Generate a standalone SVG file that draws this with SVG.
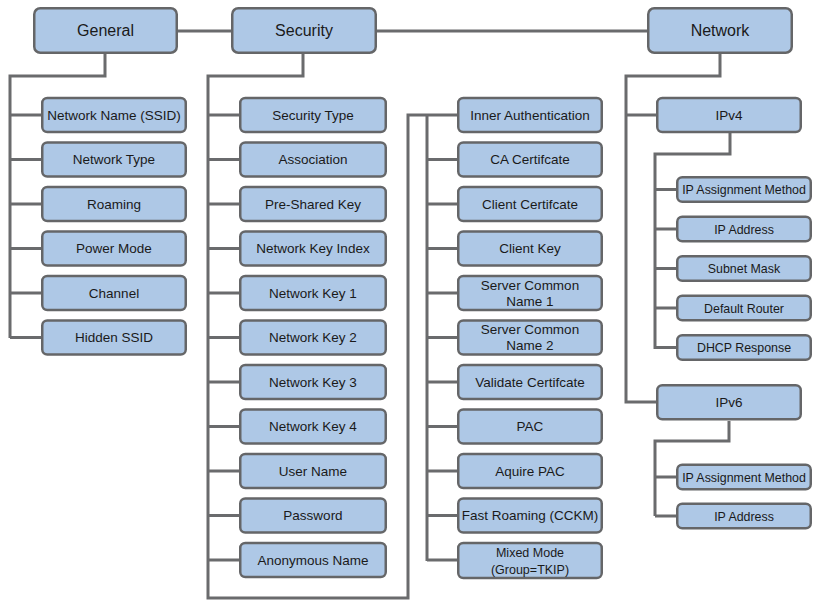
<svg xmlns="http://www.w3.org/2000/svg" width="813" height="600" viewBox="0 0 813 600">
<style>
.bx{fill:#aec8e6;stroke:#656668;stroke-width:2.5}
.ln{fill:none;stroke:#6a6b6d;stroke-width:3}
text{font-family:"Liberation Sans",Arial,sans-serif;fill:#1a1a1a;text-anchor:middle}
.t1{font-size:16px}
.t2{font-size:13.5px}
.t3{font-size:12.4px}
.t4{font-size:12.5px}
</style>
<rect width="813" height="600" fill="#ffffff"/>
<g id="connectors" class="ln">
<path d="M178,31 H231 M377,31 H647"/>
<path d="M105,54 V76 H10 V338"/>
<path d="M10,115 H41 M10,159.5 H41 M10,204 H41 M10,248.5 H41 M10,293 H41 M10,337.5 H41"/>
<path d="M303,54 V76 H208 V598 H408 V115 H457"/>
<path d="M208,115 H239 M208,159.5 H239 M208,204 H239 M208,248.5 H239 M208,293 H239 M208,337.5 H239 M208,382 H239 M208,426.5 H239 M208,471 H239 M208,515.5 H239 M208,560 H239"/>
<path d="M427,115 V561"/>
<path d="M427,159.5 H457 M427,204 H457 M427,248.5 H457 M427,293 H457 M427,337.5 H457 M427,382 H457 M427,426.5 H457 M427,471 H457 M427,515.5 H457 M427,560 H457"/>
<path d="M720,54 V76 H626 V402 H656 M626,115 H656"/>
<path d="M730,133 V154 H655 V349"/>
<path d="M655,189.5 H676 M655,229 H676 M655,268.5 H676 M655,308 H676 M655,347.5 H676"/>
<path d="M729,421 V441 H655 V516"/>
<path d="M655,477 H676 M655,516 H676"/>
</g>
<g id="general"><rect class="bx" x="34.25" y="8.25" width="142.5" height="44.5" rx="6"/><text class="t1" x="105.5" y="36.3">General</text></g>
<g id="security"><rect class="bx" x="232.25" y="8.25" width="143.5" height="44.5" rx="6"/><text class="t1" x="304" y="36.3">Security</text></g>
<g id="network"><rect class="bx" x="648.25" y="8.25" width="143.5" height="44.5" rx="6"/><text class="t1" x="720" y="36.3">Network</text></g>

<g id="g-ssid"><rect class="bx" x="42.25" y="98" width="143.5" height="34" rx="5"/><text class="t2" x="114" y="119.8">Network Name (SSID)</text></g>
<g id="g-type"><rect class="bx" x="42.25" y="142.5" width="143.5" height="34" rx="5"/><text class="t2" x="114" y="164.3">Network Type</text></g>
<g id="g-roaming"><rect class="bx" x="42.25" y="187" width="143.5" height="34" rx="5"/><text class="t2" x="114" y="208.8">Roaming</text></g>
<g id="g-power"><rect class="bx" x="42.25" y="231.5" width="143.5" height="34" rx="5"/><text class="t2" x="114" y="253.3">Power Mode</text></g>
<g id="g-channel"><rect class="bx" x="42.25" y="276" width="143.5" height="34" rx="5"/><text class="t2" x="114" y="297.8">Channel</text></g>
<g id="g-hidden"><rect class="bx" x="42.25" y="320.5" width="143.5" height="34" rx="5"/><text class="t2" x="114" y="342.3">Hidden SSID</text></g>

<g id="s-type"><rect class="bx" x="240.25" y="98" width="145.5" height="34" rx="5"/><text class="t2" x="313" y="119.8">Security Type</text></g>
<g id="s-assoc"><rect class="bx" x="240.25" y="142.5" width="145.5" height="34" rx="5"/><text class="t2" x="313" y="164.3">Association</text></g>
<g id="s-psk"><rect class="bx" x="240.25" y="187" width="145.5" height="34" rx="5"/><text class="t2" x="313" y="208.8">Pre-Shared Key</text></g>
<g id="s-index"><rect class="bx" x="240.25" y="231.5" width="145.5" height="34" rx="5"/><text class="t2" x="313" y="253.3">Network Key Index</text></g>
<g id="s-key1"><rect class="bx" x="240.25" y="276" width="145.5" height="34" rx="5"/><text class="t2" x="313" y="297.8">Network Key 1</text></g>
<g id="s-key2"><rect class="bx" x="240.25" y="320.5" width="145.5" height="34" rx="5"/><text class="t2" x="313" y="342.3">Network Key 2</text></g>
<g id="s-key3"><rect class="bx" x="240.25" y="365" width="145.5" height="34" rx="5"/><text class="t2" x="313" y="386.8">Network Key 3</text></g>
<g id="s-key4"><rect class="bx" x="240.25" y="409.5" width="145.5" height="34" rx="5"/><text class="t2" x="313" y="431.3">Network Key 4</text></g>
<g id="s-user"><rect class="bx" x="240.25" y="454" width="145.5" height="34" rx="5"/><text class="t2" x="313" y="475.8">User Name</text></g>
<g id="s-pass"><rect class="bx" x="240.25" y="498.5" width="145.5" height="34" rx="5"/><text class="t2" x="313" y="520.3">Password</text></g>
<g id="s-anon"><rect class="bx" x="240.25" y="543" width="145.5" height="34" rx="5"/><text class="t2" x="313" y="564.8">Anonymous Name</text></g>

<g id="i-inner"><rect class="bx" x="458.25" y="98" width="143.5" height="34" rx="5"/><text class="t2" x="530" y="119.8">Inner Authentication</text></g>
<g id="i-ca"><rect class="bx" x="458.25" y="142.5" width="143.5" height="34" rx="5"/><text class="t2" x="530" y="164.3">CA Certifcate</text></g>
<g id="i-client"><rect class="bx" x="458.25" y="187" width="143.5" height="34" rx="5"/><text class="t2" x="530" y="208.8">Client Certifcate</text></g>
<g id="i-key"><rect class="bx" x="458.25" y="231.5" width="143.5" height="34" rx="5"/><text class="t2" x="530" y="253.3">Client Key</text></g>
<g id="i-scn1"><rect class="bx" x="458.25" y="276" width="143.5" height="34" rx="5"/><text class="t2" x="530" y="289.8">Server Common</text><text class="t2" x="530" y="305.8">Name 1</text></g>
<g id="i-scn2"><rect class="bx" x="458.25" y="320.5" width="143.5" height="34" rx="5"/><text class="t2" x="530" y="334.3">Server Common</text><text class="t2" x="530" y="350.3">Name 2</text></g>
<g id="i-validate"><rect class="bx" x="458.25" y="365" width="143.5" height="34" rx="5"/><text class="t2" x="530" y="386.8">Validate Certifcate</text></g>
<g id="i-pac"><rect class="bx" x="458.25" y="409.5" width="143.5" height="34" rx="5"/><text class="t2" x="530" y="431.3">PAC</text></g>
<g id="i-aquire"><rect class="bx" x="458.25" y="454" width="143.5" height="34" rx="5"/><text class="t2" x="530" y="475.8">Aquire PAC</text></g>
<g id="i-fast"><rect class="bx" x="458.25" y="498.5" width="143.5" height="34" rx="5"/><text class="t2" x="530" y="520.3">Fast Roaming (CCKM)</text></g>
<g id="i-mixed"><rect class="bx" x="458.25" y="543" width="143.5" height="35" rx="5"/><text class="t4" x="530" y="557.2">Mixed Mode</text><text class="t4" x="530" y="574.4">(Group=TKIP)</text></g>

<g id="ipv4"><rect class="bx" x="657.25" y="98" width="143.5" height="34" rx="5"/><text class="t2" x="729" y="119.8">IPv4</text></g>
<g id="v4-method"><rect class="bx" x="677.25" y="177.25" width="133.5" height="24.5" rx="5"/><text class="t3" x="744" y="194">IP Assignment Method</text></g>
<g id="v4-addr"><rect class="bx" x="677.25" y="216.75" width="133.5" height="24.5" rx="5"/><text class="t3" x="744" y="233.5">IP Address</text></g>
<g id="v4-mask"><rect class="bx" x="677.25" y="256.25" width="133.5" height="24.5" rx="5"/><text class="t3" x="744" y="273">Subnet Mask</text></g>
<g id="v4-router"><rect class="bx" x="677.25" y="295.75" width="133.5" height="24.5" rx="5"/><text class="t3" x="744" y="312.5">Default Router</text></g>
<g id="v4-dhcp"><rect class="bx" x="677.25" y="335.25" width="133.5" height="24.5" rx="5"/><text class="t3" x="744" y="352">DHCP Response</text></g>

<g id="ipv6"><rect class="bx" x="657.25" y="385.25" width="143.5" height="34" rx="5"/><text class="t2" x="729" y="407">IPv6</text></g>
<g id="v6-method"><rect class="bx" x="677.25" y="464.75" width="133.5" height="24.5" rx="5"/><text class="t3" x="744" y="481.5">IP Assignment Method</text></g>
<g id="v6-addr"><rect class="bx" x="677.25" y="503.75" width="133.5" height="24.5" rx="5"/><text class="t3" x="744" y="520.5">IP Address</text></g>
</svg>
